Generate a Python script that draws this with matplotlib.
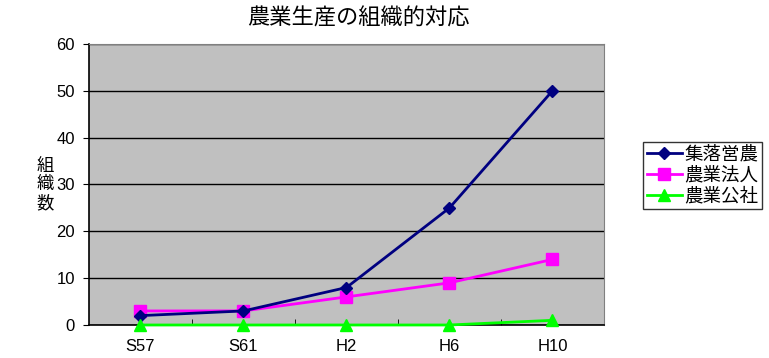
import numpy as np
import matplotlib
matplotlib.use("Agg")
import matplotlib.pyplot as plt

plt.rcParams['font.family'] = ['Liberation Sans', 'Noto Sans CJK JP']

# データ
years = ["S57", "S61", "H2", "H6", "H10"]
shuraku = [2, 3, 8, 25, 50]     # 集落営農
hojin = [3, 3, 6, 9, 14]        # 農業法人
kosha = [0, 0, 0, 0, 1]         # 農業公社

fig = plt.figure(figsize=(7.69, 3.58), dpi=100, facecolor="w")
ax = fig.add_axes([0.1157, 0.0922, 0.6697, 0.785])
ax.set_facecolor("#C0C0C0")

x = np.arange(len(years))
ax.plot(x, shuraku, color="#000080", marker="D", markersize=6, lw=2, label="集落営農", clip_on=False, zorder=4)
ax.plot(x, hojin, color="#FF00FF", marker="s", markersize=9, lw=2, label="農業法人", clip_on=False, zorder=3)
ax.plot(x, kosha, color="#00FF00", marker="^", markersize=9, lw=2, label="農業公社", clip_on=False, zorder=5)

ax.set_xlim(-0.5, len(years) - 0.5)
ax.set_ylim(0, 60)
ax.set_yticks(range(0, 61, 10))
ax.set_xticks(x)
ax.set_xticklabels(years)
ax.set_xticks(np.arange(0.5, len(years) - 0.5, 1), minor=True)
ax.tick_params(axis="x", which="major", length=0, pad=10, labelsize=12)
ax.tick_params(axis="x", which="minor", direction="in", length=4)
ax.tick_params(axis="y", direction="out", length=4, labelsize=12, pad=6)
ax.yaxis.grid(True, color="k", lw=1)
ax.set_axisbelow(True)
for s in ["top", "right"]:
    ax.spines[s].set_color("#808080")
for s in ["left", "bottom"]:
    ax.spines[s].set_linewidth(1.2)

ax.set_ylabel("組\n織\n数", rotation=0, fontsize=12.5, linespacing=1.05, va="center",
              family="Noto Sans CJK JP")
ax.yaxis.set_label_coords(-0.085, 0.5)
fig.text(358 / 769, 1 - 18 / 358, "農業生産の組織的対応", fontsize=16, ha="center", va="center",
         family="Noto Sans CJK JP")

leg = ax.legend(loc="upper left", bbox_to_anchor=(0.836, 0.603), bbox_transform=fig.transFigure,
                frameon=True, fancybox=False, edgecolor="k",
                prop={"family": "Noto Sans CJK JP", "size": 13.3},
                borderpad=0.2, labelspacing=0.15, handlelength=1.9, handletextpad=0.15,
                borderaxespad=0)
leg.get_frame().set_linewidth(1)

fig.savefig("out.png", dpi=100)
